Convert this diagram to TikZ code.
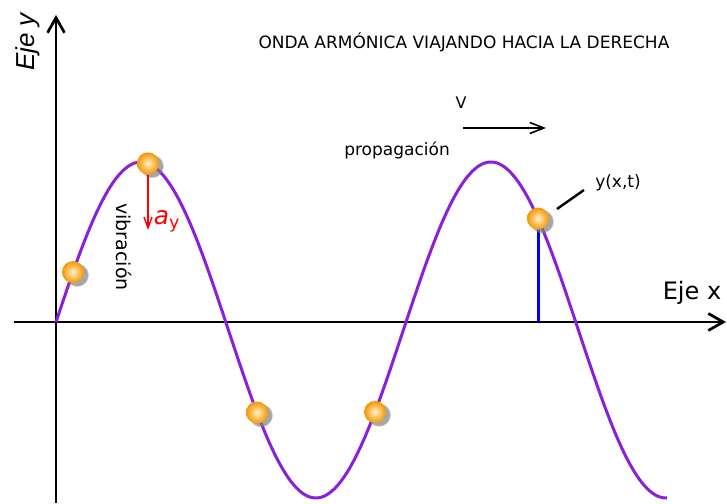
\documentclass[tikz,border=0pt]{standalone}
\usepackage{fontspec}
\setmainfont{DejaVu Sans}
\newfontfamily\axisfont{Liberation Sans}
\usetikzlibrary{arrows.meta,shadows}
\definecolor{wavecol}{RGB}{138,32,215}
\definecolor{ballin}{RGB}{255,240,200}
\definecolor{ballout}{RGB}{245,150,0}
\tikzset{
  part/.style={circle,minimum size=22pt,inner sep=0pt,shading=radial,
    inner color=ballin,outer color=ballout,
    circular drop shadow={shadow xshift=3.5pt,shadow yshift=-2.5pt,opacity=0.7}},
  txt/.style={font=\fontsize{#1}{#1}\selectfont,inner sep=0pt}
}
\begin{document}
\begin{tikzpicture}[x=1pt,y=1pt,>={Straight Barb[length=15pt,width=17pt]},
  declare function={f(\x)=173+168*sin(1.0286*(\x-53.4));}]
  \useasboundingbox (0,0) rectangle (727,503);
  % ejes
  \coordinate (xl) at (14,181);
  \coordinate (xr) at (726,181);
  \coordinate (yb) at (56,0);
  \coordinate (yt) at (56,488);
  \draw[->,line width=2.7pt] (xl)--(xr);
  \draw[->,line width=2.7pt] (yb)--(yt);
  \node[txt=24] (ejex) at (692,210) {Eje x};
  \node[txt=26,rotate=90] (ejey) at (28,461) {\axisfont\itshape Eje y};
  % onda
  \draw[wavecol,line width=3pt,domain=56:667,samples=220,smooth] plot (\x,{f(\x)});
  \coordinate (c5) at (538,{f(538)});
  \coordinate (x5) at (538,181);
  \draw[blue,line width=3pt] (x5)--(c5);
  \node[part] (p1) at (73,{f(73)}) {};
  \node[part] (p2) at (148,{f(148)}) {};
  \node[part] (p3) at (257,{f(257)}) {};
  \node[part] (p4) at (375,{f(375)}) {};
  \node[part] (p5) at (c5) {};
  % vibracion
  \coordinate (ay) at (148,273);
  \draw[->,red,line width=1.4pt,>={Straight Barb[length=11pt,width=8pt]}] (p2.south)--(ay);
  \node[txt=25,red] (aylbl) at (167,282) {\itshape a\textsubscript{\upshape y}};
  \node[txt=19,rotate=-90] (vib) at (124,256) {vibración};
  % propagacion
  \node[txt=17] (prop) at (397,353) {propagación};
  \node[txt=16] (vel) at (461,400) {V};
  \coordinate (v1) at (463,375);
  \coordinate (v2) at (546,375);
  \draw[->,line width=1.6pt,>={Straight Barb[length=14pt,width=11pt]}] (v1)--(v2);
  % y(x,t)
  \node[txt=17] (ylbl) at (618,320) {y(x,t)};
  \coordinate (t1) at (557,294);
  \coordinate (t2) at (584,313);
  \draw[line width=2.4pt] (t1)--(t2);
  \node[txt=17] (titulo) at (464,461) {ONDA ARMÓNICA VIAJANDO HACIA LA DERECHA};
\end{tikzpicture}
\end{document}
